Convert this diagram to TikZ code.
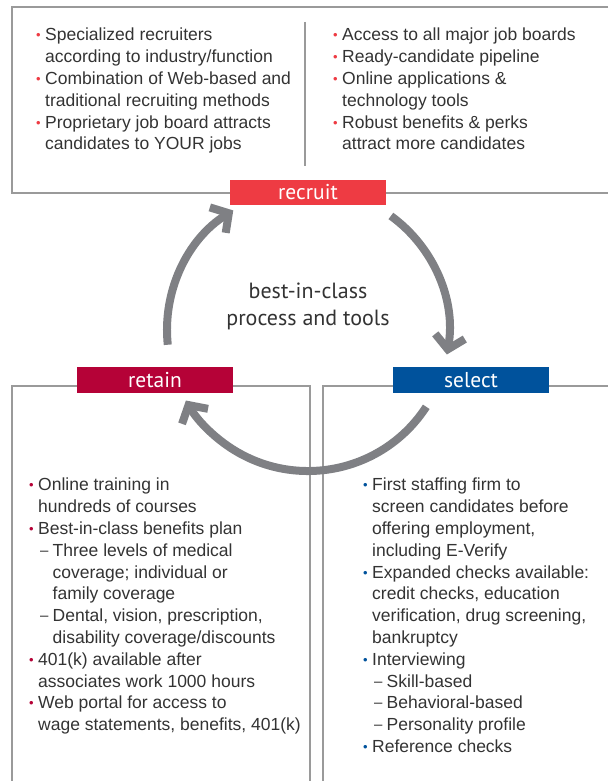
\documentclass[tikz,border=0pt]{standalone}
\usepackage{fontspec}
\setmainfont{Liberation Sans}
\newfontfamily\labelfont{PT Sans}
\usetikzlibrary{arrows.meta}

\definecolor{recruitred}{HTML}{EE3B43}
\definecolor{retainred}{HTML}{B50237}
\definecolor{selectblue}{HTML}{00529C}
\definecolor{arrowgray}{HTML}{7F8084}
\definecolor{framegray}{HTML}{9A9A9A}
\definecolor{textgray}{HTML}{333333}

% bullets and indents for the lists
\newcommand{\bul}[1]{\makebox[9pt][l]{\textcolor{#1}{\raisebox{1pt}{\fontsize{13pt}{13pt}\selectfont •}}}}
\newcommand{\hangin}{\hspace*{9pt}}
\newcommand{\dashitem}{\hspace*{2pt}\makebox[12.5pt][l]{\raisebox{1pt}{\fontsize{15pt}{15pt}\selectfont –}}}
\newcommand{\hangsub}{\hspace*{14.5pt}}

\tikzset{
    frame/.style={draw=framegray, line width=1.3pt},
    listtext/.style={anchor=north west, inner sep=0pt, align=left, text=textgray,
        font=\fontsize{17.5pt}{21.8pt}\selectfont,
        execute at begin node={\rule{0pt}{14pt}}},
    stage/.style={minimum width=156pt, minimum height=25.5pt, inner sep=0pt,
        text=white, font=\labelfont\fontsize{21.5pt}{24pt}\selectfont},
    cycle arrow/.style={draw=arrowgray, line width=8pt,
        -{Straight Barb[length=13pt, width=30pt]}}
}

\begin{document}
\begin{tikzpicture}[x=1pt, y=1pt]
    \useasboundingbox (0,0) rectangle (608,-781);

    % frames round the three lists
    \draw[frame] (608,-7) -- (12,-7) -- (12,-193) -- (608,-193);
    \draw[frame] (305,-22) -- (305,-166);
    \draw[frame] (12,-781) -- (12,-386) -- (310,-386) -- (310,-781);
    \draw[frame] (323,-781) -- (323,-386) -- (608,-386);

    % recruit lists
    \node[listtext] (recruitleft) at (36,-28) {%
        \bul{recruitred}Specialized recruiters\\
        \hangin according to industry/function\\
        \bul{recruitred}Combination of Web-based and\\
        \hangin traditional recruiting methods\\
        \bul{recruitred}Proprietary job board attracts\\
        \hangin candidates to YOUR jobs};
    \node[listtext] (recruitright) at (333,-28) {%
        \bul{recruitred}Access to all major job boards\\
        \bul{recruitred}Ready-candidate pipeline\\
        \bul{recruitred}Online applications \&\\
        \hangin technology tools\\
        \bul{recruitred}Robust benefits \& perks\\
        \hangin attract more candidates};

    % retain list
    \node[listtext] (retainlist) at (29,-478) {%
        \bul{retainred}Online training in\\
        \hangin hundreds of courses\\
        \bul{retainred}Best-in-class benefits plan\\
        \hangin\dashitem Three levels of medical\\
        \hangin\hangsub coverage; individual or\\
        \hangin\hangsub family coverage\\
        \hangin\dashitem Dental, vision, prescription,\\
        \hangin\hangsub disability coverage/discounts\\
        \bul{retainred}401(k) available after\\
        \hangin associates work 1000 hours\\
        \bul{retainred}Web portal for access to\\
        \hangin wage statements, benefits, 401(k)};

    % select list
    \node[listtext] (selectlist) at (363,-478) {%
        \bul{selectblue}First staffing firm to\\
        \hangin screen candidates before\\
        \hangin offering employment,\\
        \hangin including E-Verify\\
        \bul{selectblue}Expanded checks available:\\
        \hangin credit checks, education\\
        \hangin verification, drug screening,\\
        \hangin bankruptcy\\
        \bul{selectblue}Interviewing\\
        \hangin\dashitem Skill-based\\
        \hangin\dashitem Behavioral-based\\
        \hangin\dashitem Personality profile\\
        \bul{selectblue}Reference checks};

    % the cycle
    \coordinate (hub) at (308,-330);
    \node[align=center, anchor=north, inner sep=0pt, text=textgray,
        font=\labelfont\fontsize{22pt}{27pt}\selectfont] (core) at (308,-282)
        {\rule{0pt}{16pt}best-in-class\\process and tools};

    \draw[cycle arrow] ([shift={(hub)}]54:141) arc[start angle=54, end angle=-10, radius=141];
    \draw[cycle arrow] ([shift={(hub)}]-33:141) arc[start angle=-33, end angle=-150, radius=141];
    \draw[cycle arrow] ([shift={(hub)}]186:141) arc[start angle=186, end angle=122, radius=141];

    \node[stage, fill=recruitred] (recruit) at (308,-192.5) {recruit};
    \node[stage, fill=retainred] (retain) at (155,-380) {retain};
    \node[stage, fill=selectblue] (select) at (471,-380) {select};
\end{tikzpicture}
\end{document}
